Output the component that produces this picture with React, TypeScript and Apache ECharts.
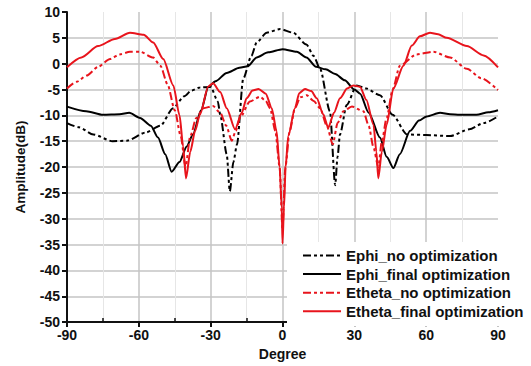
import React, { useEffect, useRef } from "react";
import * as echarts from "echarts";

const seriesNames = [
  "Ephi_no optimization",
  "Ephi_final optimization",
  "Etheta_no optimization",
  "Etheta_final optimization",
];

const xTicks = [-90, -60, -30, 0, 30, 60, 90];
const yTicks = [-50, -45, -40, -35, -30, -25, -20, -15, -10, -5, 0, 5, 10];

const ephiNoDeg = [-90, -85, -79, -71, -65, -57, -51, -45.7, -41, -38, -34.5, -30, -27, -26, -23.3, -22, -20.5, -19, -16.4, -13, -10.8, -6.6, -1, 4.4, 10, 13, 15.7, 19.8, 22, 23, 24, 26.8, 31, 35, 40.7, 46, 52, 60, 70, 78, 84, 90];
const ephiNoDb = [-11.5, -12.3, -13.7, -15, -14.9, -13.3, -12, -8.6, -6.3, -5.2, -4.6, -4.5, -7.3, -9.9, -17.5, -24.7, -19, -15.6, -2.9, 1.5, 4.1, 6.0, 6.7, 6.0, 3.7, 1.5, -1.0, -9.2, -23.5, -18, -13.7, -8, -4.2, -4.8, -6.1, -9.9, -13.7, -13.8, -14, -12.7, -11.5, -10.2];

const ephiFinalDeg = [-90, -82, -75, -68, -64, -59.5, -55, -52, -49, -46.3, -43, -40, -37.4, -34, -31, -28, -23.3, -18, -14.5, -10.8, -6, 0, 6, 10, 14, 18, 22, 26, 30, 32.4, 36, 40.7, 43.5, 46.3, 49, 53.3, 57, 60.2, 65.8, 70, 74, 81, 86, 90];
const ephiFinalDb = [-8.3, -9.2, -9.9, -9.8, -9.5, -10.5, -12, -14.3, -17.5, -20.9, -19, -16, -13.7, -9, -4.5, -3.4, -1.8, -0.8, -0.5, 1.2, 2.2, 2.8, 2.3, 1.2, -0.6, -1.1, -2.0, -3.2, -5.0, -5.8, -9.5, -14.3, -18, -20.2, -17.5, -13, -11, -10.2, -9.5, -9.8, -9.9, -9.9, -9.4, -9.0];

const ethetaNoDeg = [-90, -86, -81.8, -77, -72, -68, -63.7, -59.5, -54, -51, -48, -45, -42.5, -40.5, -38.5, -36, -33, -29, -26, -23.5, -21.2, -19.5, -17.8, -13.6, -9.4, -7, -5.2, -3, -1.2, 0, 1.2, 3, 5.2, 7.5, 10.1, 13, 15.7, 18.5, 21, 23, 25.4, 29, 33.8, 36, 38, 40, 41.5, 43.5, 46, 49, 56, 63, 70, 77, 83, 90];
const ethetaNoDb = [-4.8, -3.5, -2.3, -0.6, 0.9, 1.8, 2.3, 2.3, 1.2, -0.4, -4, -9, -14, -20, -14, -10.5, -8.6, -8.2, -9.5, -12, -14.9, -13, -10.5, -7.3, -6.4, -7.2, -8.6, -13, -20, -32, -20, -13, -8.6, -6.5, -6.1, -7.2, -8.6, -12, -15.6, -11.5, -9.2, -8.3, -9.2, -12, -16.2, -20, -15, -10.5, -5, -0.4, 1.8, 2.3, 1.2, -1.0, -2.8, -5.1];

const ethetaFinalDeg = [-90, -84, -77, -70, -63.7, -58, -54, -49.8, -45.6, -43, -41.5, -40.3, -38.5, -36.5, -34.5, -31, -29, -26, -23.3, -19.8, -17, -15, -12.5, -10, -7, -4.5, -2.5, -1.2, -0.3, 0, 0.6, 1.3, 2.4, 5.2, 7, 9.4, 12, 14.3, 17, 19.1, 21.5, 24, 27, 29.6, 32.4, 35, 38, 39.2, 40, 41.5, 43.5, 46.3, 50.5, 54, 57.4, 61.6, 65, 68.6, 77, 84, 90];
const ethetaFinalDb = [-0.7, 1.2, 3.4, 4.8, 6.0, 5.6, 4.1, 0.9, -4.2, -10, -16, -22.2, -17, -13, -9.9, -4.4, -3.8, -5.5, -8.6, -12.7, -9.5, -6.7, -5.2, -4.9, -5.8, -8.6, -13, -20, -28, -34.8, -28, -20, -14, -8.6, -5.7, -4.9, -5.3, -6.7, -9.8, -12.4, -9.5, -6.7, -4.8, -4.2, -4.5, -7, -11.8, -17, -22.2, -17, -11.8, -4.8, -0.4, 3.5, 5.3, 6.0, 5.7, 5.0, 3.4, 1.6, -0.7];

const zip = (xs: number[], ys: number[]) => xs.map((x, i) => [x, ys[i]]);

const BLACK = "#000000";
const RED = "#e8141c";
const FONT = "'Liberation Sans', Arial, sans-serif";

export default function App() {
  const ref = useRef<HTMLDivElement>(null);
  useEffect(() => {
    if (!ref.current) return;
    const chart = echarts.init(ref.current, undefined, { renderer: "svg" });
    const dashPattern = [8, 3, 3, 3, 3, 3];
    const mk = (name: string, data: number[][], color: string, dashed: boolean) => ({
      name,
      type: "line",
      data,
      symbol: "none",
      smooth: 0.25,
      smoothMonotone: "x",
      lineStyle: { color, width: 2, type: dashed ? dashPattern : "solid" },
      itemStyle: { color },
    });
    chart.setOption({
      animation: false,
      backgroundColor: "#ffffff",
      textStyle: { fontFamily: FONT },
      grid: { left: 67, right: 33, top: 12, bottom: 38, containLabel: false },
      legend: {
        orient: "vertical",
        left: 287,
        top: 242,
        padding: [6, 6, 8, 15],
        backgroundColor: "#ffffff",
        itemWidth: 38,
        itemHeight: 10,
        itemGap: 3.6,
        itemStyle: { opacity: 0 },
        textStyle: { fontFamily: FONT, fontSize: 15, fontWeight: "bold", color: "#111" },
        data: seriesNames,
      },
      xAxis: {
        type: "value",
        min: xTicks[0],
        max: xTicks[xTicks.length - 1],
        interval: 30,
        name: "Degree",
        nameLocation: "middle",
        nameGap: 22,
        nameTextStyle: { fontFamily: FONT, fontSize: 14, fontWeight: "bold", color: "#111" },
        axisLine: { show: true, onZero: false, lineStyle: { color: "#111", width: 2 } },
        axisTick: { show: true, inside: false, length: 5, lineStyle: { color: "#111", width: 2 } },
        minorTick: { show: true, splitNumber: 2, length: -4, lineStyle: { color: "#111", width: 1.5 } },
        axisLabel: {
          margin: 6,
          fontFamily: FONT,
          fontSize: 14,
          fontWeight: "bold",
          color: "#111",
        },
        splitLine: { show: true, showMinLine: false, showMaxLine: false, lineStyle: { color: "#c4c4c4", width: 1.5 } },
        minorSplitLine: { show: true, lineStyle: { color: "#e6e6e6", width: 1 } },
      },
      yAxis: {
        type: "value",
        min: yTicks[0],
        max: yTicks[yTicks.length - 1],
        interval: 5,
        name: "Amplitude(dB)",
        nameLocation: "middle",
        nameGap: 40,
        nameTextStyle: { fontFamily: FONT, fontSize: 13.5, fontWeight: "bold", color: "#111" },
        axisLine: { show: true, onZero: false, lineStyle: { color: "#111", width: 2 } },
        axisTick: { show: true, inside: false, length: 5, lineStyle: { color: "#111", width: 2 } },
        axisLabel: {
          margin: 7,
          fontFamily: FONT,
          fontSize: 14,
          fontWeight: "bold",
          color: "#111",
        },
        splitLine: { show: true, showMinLine: false, showMaxLine: false, lineStyle: { color: "#c4c4c4", width: 1.5 } },
      },
      series: [
        mk(seriesNames[0], zip(ephiNoDeg, ephiNoDb), BLACK, true),
        mk(seriesNames[1], zip(ephiFinalDeg, ephiFinalDb), BLACK, false),
        mk(seriesNames[2], zip(ethetaNoDeg, ethetaNoDb), RED, true),
        mk(seriesNames[3], zip(ethetaFinalDeg, ethetaFinalDb), RED, false),
      ],
    });
    return () => chart.dispose();
  }, []);
  return <div ref={ref} style={{ width: 531, height: 366, position: "absolute", left: 0, top: 0 }} />;
}
